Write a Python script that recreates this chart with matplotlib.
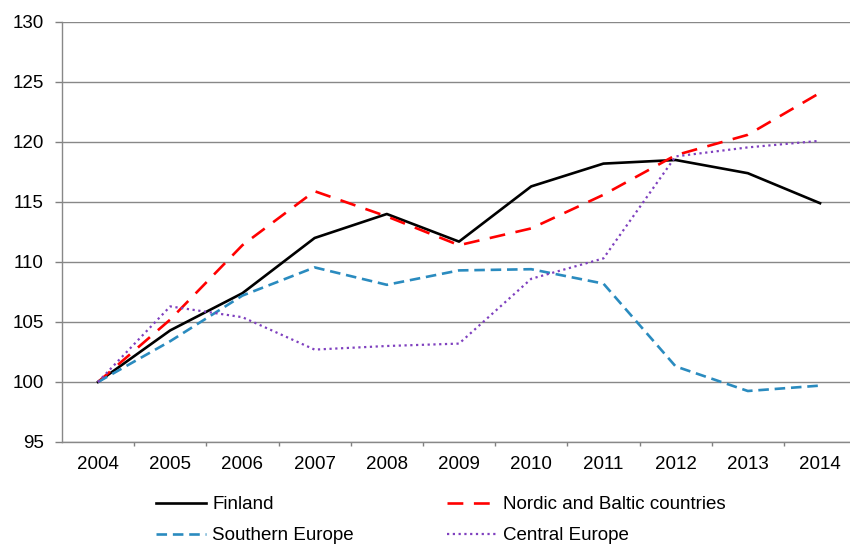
import numpy as np
import matplotlib.pyplot as plt
from matplotlib.ticker import FixedLocator

plt.rcParams['font.family'] = ['Liberation Sans', 'DejaVu Sans']

years = ['2004', '2005', '2006', '2007', '2008', '2009', '2010', '2011', '2012', '2013', '2014']
finland = [100, 104.3, 107.4, 112.0, 114.0, 111.7, 116.3, 118.2, 118.5, 117.4, 114.9]
nordic = [100, 105.2, 111.4, 115.9, 113.8, 111.4, 112.8, 115.6, 118.9, 120.6, 124.1]
southern = [100, 103.4, 107.2, 109.55, 108.1, 109.3, 109.4, 108.2, 101.3, 99.25, 99.7]
central = [100, 106.3, 105.4, 102.7, 103.0, 103.2, 108.6, 110.3, 118.8, 119.55, 120.1]

x = np.arange(len(years))

fig = plt.figure(figsize=(8.5, 5.46), dpi=100)
ax = fig.add_axes([62 / 850, 1 - 442 / 546, 788 / 850, 420 / 546])

l1, = ax.plot(x, finland, color='black', lw=1.9, label='Finland')
l2, = ax.plot(x, nordic, color='#ff0000', lw=1.9, dashes=(6, 4), label='Nordic and Baltic countries')
l3, = ax.plot(x, southern, color='#2a8bbf', lw=1.9, dashes=(4, 2.2), label='Southern Europe')
l4, = ax.plot(x, central, color='#7f40bf', lw=1.6, dashes=(1, 1.6), label='Central Europe')

ax.set_xlim(-0.4986, 10.415)
ax.set_ylim(95, 130)
ax.set_yticks(np.arange(95, 131, 5))
ax.set_xticks(x)
ax.set_xticklabels(years)
ax.xaxis.set_minor_locator(FixedLocator(np.arange(-0.5, 10.6, 1)))
ax.tick_params(axis='x', which='major', length=0, pad=10, labelsize=13.5, colors='black')
ax.tick_params(axis='x', which='minor', length=3, color='#808080', width=1)
ax.tick_params(axis='y', length=5, color='#808080', width=1, labelsize=13.5, pad=8)

ax.grid(axis='y', color='#888888', lw=1)
ax.set_axisbelow(True)
for s in ['top', 'right']:
    ax.spines[s].set_visible(False)
for s in ['left', 'bottom']:
    ax.spines[s].set_color('#888888')
    ax.spines[s].set_linewidth(1)

# legend columns: Finland/Southern on the left, Nordic/Central on the right
fig.legend(handles=[l1, l3, l2, l4], loc='upper left', bbox_to_anchor=(156 / 850, 1 - 496 / 546),
           ncol=2, frameon=False, fontsize=13.5, handlelength=2.67, handletextpad=0.32,
           labelspacing=0.76, columnspacing=4.95, borderpad=0, borderaxespad=0)

fig.savefig('out.png', dpi=100)
